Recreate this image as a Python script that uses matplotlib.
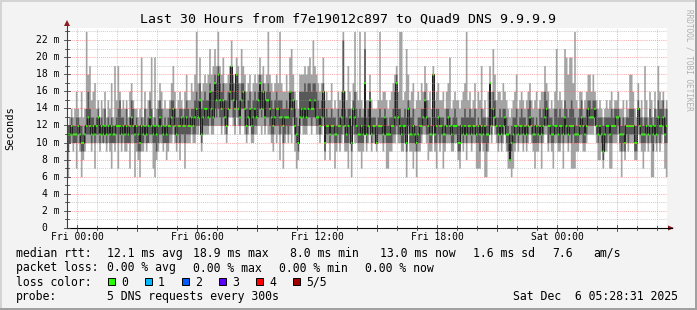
import numpy as np
import matplotlib
matplotlib.use("Agg")
import matplotlib.pyplot as plt
from matplotlib.patches import Rectangle, Polygon
from matplotlib.lines import Line2D

# ---------------- data (ms), one value per 5-minute step, 30 hours ----------------
ping_lo = [
 6,10,10,9,10,7,10,9,6,8,9,10,10,10,9,10,7,10,10,9,10,10,10,9,10,9,7,10,9,10,
 7,10,9,10,9,9,10,7,10,10,6,9,8,6,9,9,10,9,10,10,10,7,6,8,9,10,10,9,10,8,
 9,10,10,11,10,9,10,8,10,10,7,10,10,10,11,10,10,11,11,12,9,11,11,11,11,12,11,11,12,12,
 12,12,11,12,11,10,12,13,13,12,11,13,12,11,12,12,11,10,11,12,10,10,11,11,12,12,11,12,11,12,
 11,11,10,9,11,10,11,8,11,7,10,11,10,11,10,12,9,7,8,11,12,11,11,11,12,12,11,12,12,11,
 11,10,11,12,8,10,10,8,10,10,7,9,10,9,10,11,9,9,7,10,6,11,10,10,9,9,7,9,11,9,
 10,11,9,10,10,9,10,10,10,9,10,7,7,9,9,10,10,11,10,10,9,9,10,6,11,9,9,7,9,6,
 9,9,10,11,11,10,8,9,9,11,9,7,10,9,10,7,9,10,10,10,9,9,10,10,8,7,10,9,10,8,
 10,10,9,10,10,7,7,7,10,9,6,6,9,11,10,12,11,10,9,10,9,10,11,9,7,7,6,7,9,10,
 9,10,10,9,10,9,10,11,10,9,7,9,9,10,7,10,11,11,9,10,9,7,10,10,9,9,10,7,10,10,
 9,10,7,7,7,9,9,10,10,9,9,10,11,11,11,11,12,10,8,8,9,7,9,9,10,7,7,10,10,10,
 11,9,6,9,8,10,9,10,10,10,8,8,11,10,9,7,9,10,9,10,6,6,10,9,10,9,10,11,7,6,
]
ping_q1 = [
 9,10,11,10,10,10,11,10,9,9,10,11,11,11,10,11,10,11,11,10,11,10,11,10,11,10,10,10,10,11,
 10,11,10,11,10,10,10,10,11,11,10,10,9,9,10,10,11,10,10,11,11,10,10,9,10,11,11,10,10,10,
 10,11,11,12,11,10,11,10,11,11,10,11,11,11,12,11,11,12,12,13,10,12,12,12,12,13,12,12,14,13,
 14,13,12,13,12,11,13,14,15,13,12,15,13,12,14,14,12,11,12,13,11,11,12,12,13,14,13,14,12,13,
 13,12,11,11,12,12,12,11,12,10,11,12,11,12,12,13,11,10,9,12,13,12,12,12,13,13,12,13,13,12,
 12,11,12,13,9,11,11,10,11,11,10,10,11,10,11,12,10,10,10,11,9,12,11,11,10,10,10,10,12,10,
 11,12,10,11,11,10,11,11,11,10,11,10,10,10,10,11,11,12,11,11,10,10,11,9,12,10,10,10,10,9,
 10,10,11,12,12,11,11,10,10,12,10,10,11,10,11,10,10,11,11,11,10,10,11,11,9,9,11,10,11,10,
 11,11,10,11,11,10,10,9,11,10,10,9,10,12,11,13,12,11,10,11,10,11,12,10,9,8,9,10,10,11,
 10,11,11,10,11,10,11,12,11,10,10,10,10,11,10,11,12,12,10,11,10,10,11,11,10,10,11,10,11,11,
 10,11,10,11,10,10,10,11,11,10,10,11,12,12,12,12,13,11,10,11,10,8,10,10,11,10,10,11,11,11,
 12,10,9,10,9,11,10,11,11,11,9,9,12,11,10,10,10,11,10,11,10,9,11,10,11,10,11,12,10,10,
]
median_rtt = [
 11,11,12,11,11,11,12,11,10,10,11,12,13,12,11,12,11,12,13,11,12,11,12,11,12,11,12,11,11,12,
 12,12,11,12,11,12,11,12,13,12,11,12,11,10,12,11,12,11,12,13,12,11,12,11,12,13,12,11,12,11,
 12,12,13,14,12,11,12,12,13,12,12,13,12,12,13,12,13,14,13,15,11,13,14,14,13,16,14,13,17,15,
 18,15,14,15,13,12,14,16,19,15,14,18,14,13,15,16,14,12,13,14,12,13,14,13,15,17,14,16,13,15,
 15,14,13,12,13,14,14,13,13,12,13,13,13,16,14,15,12,11,10,13,14,13,14,13,14,15,14,14,15,13,
 13,12,13,16,10,12,12,11,12,12,11,11,12,12,13,16,12,11,12,13,10,14,13,12,11,11,12,11,17,11,
 12,15,11,12,12,10,12,12,12,11,13,11,11,11,12,12,13,17,13,12,11,12,12,10,14,11,11,12,11,10,
 11,12,12,13,15,13,12,11,11,18,11,12,13,12,12,11,11,12,13,12,11,12,12,12,10,10,12,11,12,11,
 12,12,11,12,12,11,12,11,12,11,12,11,11,17,12,14,13,12,11,12,11,12,13,11,11,8,10,11,12,12,
 11,12,12,11,12,11,12,13,12,11,11,12,11,12,11,12,13,14,12,12,11,11,12,12,11,12,12,11,13,12,
 11,12,12,12,11,11,11,12,13,12,11,12,14,13,13,13,14,12,11,12,11,9,11,12,12,11,12,12,12,13,
 13,11,11,11,10,12,12,12,12,12,10,10,14,12,11,11,11,12,11,12,12,11,12,11,13,12,12,13,11,12,
]
ping_q3 = [
 12,12,13,12,12,13,13,12,12,11,12,14,16,14,13,13,12,13,14,12,13,12,14,12,13,12,13,12,12,13,
 14,15,13,13,12,14,12,13,15,14,12,13,12,12,13,12,14,12,13,15,14,12,13,12,14,15,14,12,13,12,
 13,14,15,15,14,13,13,14,14,13,14,15,14,13,14,14,15,16,15,17,14,15,16,15,15,17,16,16,18,17,
 19,17,16,17,15,15,16,17,19,17,16,18,17,15,17,17,16,14,15,16,14,15,16,15,16,18,16,17,15,16,
 17,16,15,14,15,16,15,15,15,14,14,15,14,16,16,16,14,13,12,16,16,16,17,16,17,17,16,17,17,16,
 15,14,15,17,13,14,13,13,14,13,13,12,14,13,14,22,14,13,14,14,12,15,16,14,13,14,13,13,21,13,
 14,16,13,13,13,12,13,14,13,13,14,13,12,13,13,14,16,18,14,14,13,13,14,13,15,13,13,14,12,12,
 13,13,14,14,16,15,13,13,12,18,13,14,14,13,13,13,12,14,14,13,12,13,14,13,12,12,13,13,14,13,
 13,14,13,13,14,12,13,12,14,13,13,12,13,17,14,16,15,13,13,14,13,14,14,13,12,11,12,13,13,14,
 12,13,14,13,13,12,14,15,13,13,12,13,12,14,13,14,16,15,14,13,13,12,14,14,13,14,13,13,15,14,
 13,14,15,14,13,12,13,14,15,13,13,14,15,15,14,15,15,14,13,13,13,12,13,13,13,13,14,13,14,14,
 14,13,12,13,12,13,13,14,14,14,12,12,15,13,13,12,13,13,12,14,13,12,14,13,15,14,14,15,13,14,
]
ping_hi = [
 12,13,14,13,14,16,14,13,16,13,14,23,18,19,15,16,17,14,15,13,15,14,16,13,15,14,17,13,19,15,
 19,16,14,15,14,15,13,16,17,15,14,14,13,14,20,13,16,14,15,16,20,13,20,14,15,17,16,14,15,14,
 14,15,17,19,16,14,15,16,15,14,16,18,15,15,17,16,18,23,17,20,16,17,18,17,18,21,18,19,21,19,
 23,19,18,20,17,17,18,19,22,18,17,20,19,17,21,19,18,16,17,18,16,17,18,17,18,20,18,19,17,18,
 23,18,17,16,17,18,17,23,17,16,16,18,16,20,21,18,16,15,14,18,18,18,19,18,19,20,18,22,19,18,
 17,16,17,20,15,16,15,15,17,14,15,14,16,15,16,23,16,15,19,16,14,17,23,16,15,23,15,14,23,15,
 15,18,15,14,14,14,15,23,15,16,16,15,14,15,16,17,18,19,16,23,23,15,16,21,18,15,16,17,14,15,
 16,15,17,16,19,17,15,16,14,19,15,16,17,15,15,16,14,16,17,20,14,15,16,15,15,14,15,16,17,23,
 15,16,14,15,17,14,16,15,19,14,15,13,16,19,16,21,18,15,16,16,15,17,16,15,14,13,14,15,16,18,
 14,15,16,15,14,15,16,17,15,14,15,16,14,15,16,16,19,17,16,14,15,14,16,21,15,16,15,14,21,20,
 18,20,20,17,23,15,14,16,16,14,15,16,18,18,16,18,16,15,14,15,14,13,14,15,14,15,16,14,15,15,
 16,14,14,15,13,15,14,18,18,16,14,13,17,14,15,13,19,15,13,16,15,13,16,14,19,16,15,16,14,15,
]

x_tick_labels = ["Fri 00:00", "Fri 06:00", "Fri 12:00", "Fri 18:00", "Sat 00:00"]
x_tick_hours = [0.5, 6.5, 12.5, 18.5, 24.5]      # hours after start (Thu 23:30)
y_tick_values = [0, 2, 4, 6, 8, 10, 12, 14, 16, 18, 20, 22]
loss_labels = ["0", "1", "2", "3", "4", "5/5"]
loss_colors = ["#26ff00", "#00b8ff", "#0059ff", "#5e00ff", "#ff0000", "#a00000"]

# ---------------- figure ----------------
W, H = 697, 310
MONO = "DejaVu Sans Mono"
fig = plt.figure(figsize=(W / 100, H / 100), dpi=100)
fig.patch.set_facecolor("#f3f3f3")

def fx(x):
    return x / W

def fy(y):
    return 1 - y / H

PL, PR, PT, PB = 67, 667, 28, 228
YMAX = 23.4
ax = fig.add_axes([fx(PL), fy(PB), (PR - PL) / W, (PB - PT) / H])
ax.set_facecolor("white")
ax.set_xlim(0, 30)
ax.set_ylim(0, YMAX)
for s in ax.spines.values():
    s.set_visible(False)
ax.set_xticks([])
ax.set_yticks([])

n = len(median_rtt)
t = np.arange(n + 1) / 12.0

def ext(a):
    a = np.asarray(a, float)
    return np.append(a, a[-1])

ax.fill_between(t, ext(ping_lo), ext(ping_hi), step="post", color="#a4a4a4", lw=0, zorder=2)
ax.fill_between(t, ext(ping_q1), ext(ping_q3), step="post", color="#585858", lw=0, zorder=3)
ax.step(t, ext(median_rtt), where="post", color="#202020", lw=0.75, zorder=4)
sw = YMAX / (PB - PT)
m = ext(median_rtt)
ax.fill_between(t, m - sw, m + sw, step="post", color=loss_colors[0], lw=0, zorder=5)

# grid on top
for k in range(30):
    xg = 0.5 + k
    if k % 3 == 0:
        ax.axvline(xg, color="#ff6060", alpha=0.5, lw=0.75, ls=(0, (1, 1)), zorder=6)
    else:
        ax.axvline(xg, color="#9a9a9a", alpha=0.45, lw=0.75, ls=(0, (1, 1)), zorder=6)
for v in range(1, 24):
    if v % 2 == 0:
        ax.axhline(v, color="#ff6060", alpha=0.5, lw=0.75, ls=(0, (1, 1)), zorder=6)
    else:
        ax.axhline(v, color="#9a9a9a", alpha=0.45, lw=0.75, ls=(0, (1, 1)), zorder=6)

# axes lines and arrows (figure pixel coords)
fig.add_artist(Line2D([fx(PL), fx(672)], [fy(PB), fy(PB)], color="#000000", lw=0.8))
fig.add_artist(Line2D([fx(PL), fx(PL)], [fy(PB), fy(23)], color="#404040", lw=0.8))
fig.add_artist(Polygon([(fx(64), fy(26)), (fx(70), fy(26)), (fx(67), fy(20))], closed=True,
                       color="#8b1a1a", lw=0))
fig.add_artist(Polygon([(fx(668), fy(225.5)), (fx(668), fy(230.5)), (fx(674), fy(228))], closed=True,
                       color="#8b1a1a", lw=0))
# small tick marks
for k in range(30):
    xp = PL + (0.5 + k) * 20
    L = 3 if k % 3 == 0 else 2
    fig.add_artist(Line2D([fx(xp), fx(xp)], [fy(PB - L), fy(PB + L)], color="#404040", lw=0.6))
for v in range(0, 24):
    yp = PB - v * (PB - PT) / YMAX
    L = 3 if v % 2 == 0 else 2
    fig.add_artist(Line2D([fx(PL - L), fx(PL + L)], [fy(yp), fy(yp)], color="#404040", lw=0.6))

# tick labels
for lab, h in zip(x_tick_labels, x_tick_hours):
    fig.text(fx(PL + h * 20), fy(237.5), lab, ha="center", va="center",
             family=MONO, fontsize=7, color="#000000")
for v in y_tick_values:
    yp = PB - v * (PB - PT) / YMAX
    lab = f"{v} m" if v else "0  "
    fig.text(fx(59.5), fy(yp), lab, ha="right", va="center", family=MONO, fontsize=7, color="#000000")

# title & labels
fig.text(fx(348), fy(19), "Last 30 Hours from f7e19012c897 to Quad9 DNS 9.9.9.9",
         ha="center", va="center", family=MONO, fontsize=9.5)
fig.text(fx(10.5), fy(128), "Seconds", rotation=90, ha="center", va="center", family=MONO, fontsize=7.5)
fig.text(fx(688.5), fy(60), "RRDTOOL / TOBI OETIKER", rotation=270, ha="center", va="center",
         family=MONO, fontsize=5.6, color="#b0b0b0")

LF = 8.3
line1 = [(16, "median rtt:"), (107, "12.1 ms avg"), (193, "18.9 ms max"), (290, "8.0 ms min"),
         (380, "13.0 ms now"), (473, "1.6 ms sd"), (552, "7.6"), (593, "am/s")]
line2 = [(16, "packet loss:"), (107, "0.00 % avg"), (193, "0.00 % max"), (279, "0.00 % min"),
         (365, "0.00 % now")]
for xp, s in line1:
    fig.text(fx(xp), fy(253.5), s, ha="left", va="center", family=MONO, fontsize=LF)
for xp, s in line2:
    fig.text(fx(xp), fy(268), s, ha="left", va="center", family=MONO, fontsize=LF)
fig.text(fx(16), fy(282), "loss color:", ha="left", va="center", family=MONO, fontsize=LF)
for i, (lab, col) in enumerate(zip(loss_labels, loss_colors)):
    x0 = 108 + i * 37
    fig.add_artist(Rectangle((fx(x0), fy(285)), 7 / W, 7 / H, facecolor=col, edgecolor="#000000", lw=0.7))
    fig.text(fx(x0 + 13), fy(282), lab, ha="left", va="center", family=MONO, fontsize=LF)
fig.text(fx(16), fy(296.5), "probe:", ha="left", va="center", family=MONO, fontsize=LF)
fig.text(fx(107), fy(296.5), "5 DNS requests every 300s", ha="left", va="center", family=MONO, fontsize=LF)
fig.text(fx(513), fy(296.5), "Sat Dec  6 05:28:31 2025", ha="left", va="center", family=MONO, fontsize=LF)

# 3D frame
fig.add_artist(Rectangle((0, 0), 1, 2 / H, facecolor="#a0a0a0", lw=0))
fig.add_artist(Rectangle((1 - 2 / W, 0), 2 / W, 1, facecolor="#a0a0a0", lw=0))
fig.add_artist(Rectangle((0, 1 - 2 / H), 1 - 2 / W, 2 / H, facecolor="#d4d4d4", lw=0))
fig.add_artist(Rectangle((0, 2 / H), 2 / W, 1, facecolor="#d4d4d4", lw=0))

fig.savefig("out.png", dpi=100, facecolor=fig.get_facecolor())
